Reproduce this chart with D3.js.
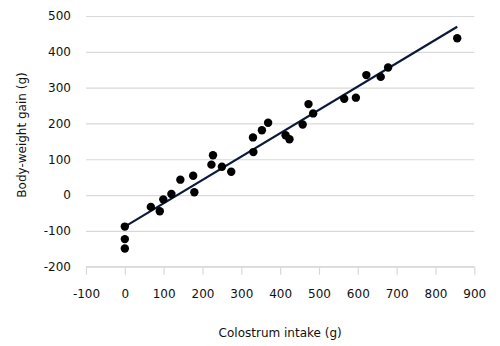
<!DOCTYPE html>
<html>
<head>
<meta charset="utf-8">
<script src="https://cdn.jsdelivr.net/npm/d3@7/dist/d3.min.js"></script>
<style>
  html, body { margin: 0; padding: 0; background: #fff; }
  svg { display: block; font-family: "DejaVu Sans", Verdana, sans-serif; }
</style>
</head>
<body>
<svg id="chart" width="500" height="346"></svg>
<script>
// Colostrum intake (g) per piglet
const intake = [0, 0, 0, 67, 90, 99, 120, 143, 176, 179, 223, 227, 250, 274,
  330, 331, 353, 369, 414, 424, 458, 473, 485, 565, 595, 622, 659, 678, 856];
// Body-weight gain (g) per piglet
const gain = [-88, -123, -149, -33, -45, -12, 3, 43, 54, 8, 85, 111, 79, 65,
  161, 120, 181, 202, 167, 156, 197, 254, 228, 269, 272, 335, 330, 356, 438];
// Linear trendline end points
const trendX = [0, 856];
const trendY = [-88, 470];
// Axis ticks
const xTicks = [-100, 0, 100, 200, 300, 400, 500, 600, 700, 800, 900];
const yTicks = [-200, -100, 0, 100, 200, 300, 400, 500];

const svg = d3.select("#chart");
const plotL = 86, plotR = 474.3, plotT = 16, plotB = 266.7;

const x = d3.scaleLinear().domain([-100, 900]).range([plotL, plotR]);
const y = d3.scaleLinear().domain([-200, 500]).range([plotB, plotT]);
// plain hyphen-minus for negative labels
const fmt = d => String(d);

// Horizontal gridlines
const yAxis = d3.axisLeft(y).tickValues(yTicks).tickFormat(fmt)
  .tickSize(-(plotR - plotL)).tickPadding(15);
const gy = svg.append("g").attr("transform", `translate(${plotL},0)`).call(yAxis);
gy.select(".domain").remove();
gy.selectAll(".tick line").attr("stroke", "#d9d9d9").attr("stroke-width", 1.2);
gy.selectAll(".tick text").attr("font-size", 12).attr("fill", "#111")
  .attr("font-family", "DejaVu Sans, Verdana, sans-serif");

// Bottom axis with downward tick marks
const xAxis = d3.axisBottom(x).tickValues(xTicks).tickFormat(fmt)
  .tickSize(8).tickPadding(15);
const gx = svg.append("g").attr("transform", `translate(0,${plotB})`).call(xAxis);
gx.select(".domain").attr("stroke", "#d9d9d9").attr("stroke-width", 1.2)
  .attr("d", `M${plotL},0H${plotR}`);
gx.selectAll(".tick line").attr("stroke", "#d9d9d9").attr("stroke-width", 1.2);
gx.selectAll(".tick text").attr("font-size", 12).attr("fill", "#111")
  .attr("font-family", "DejaVu Sans, Verdana, sans-serif");

// Trendline
const trend = trendX.map((v, i) => [v, trendY[i]]);
svg.append("path")
  .datum(trend)
  .attr("d", d3.line().x(d => x(d[0])).y(d => y(d[1])))
  .attr("stroke", "#0a1a38")
  .attr("stroke-width", 2.2)
  .attr("fill", "none");

// Data points
const pts = intake.map((v, i) => [v, gain[i]]);
svg.append("g").selectAll("circle")
  .data(pts)
  .join("circle")
  .attr("cx", d => x(d[0]))
  .attr("cy", d => y(d[1]))
  .attr("r", 4.2)
  .attr("fill", "#000");

// Axis titles
svg.append("text")
  .attr("x", (plotL + plotR) / 2)
  .attr("y", 337)
  .attr("text-anchor", "middle")
  .attr("font-size", 12)
  .attr("fill", "#111")
  .text("Colostrum intake (g)");

svg.append("text")
  .attr("transform", "translate(26,135) rotate(-90)")
  .attr("text-anchor", "middle")
  .attr("font-size", 12)
  .attr("fill", "#111")
  .text("Body-weight gain (g)");
</script>
</body>
</html>
